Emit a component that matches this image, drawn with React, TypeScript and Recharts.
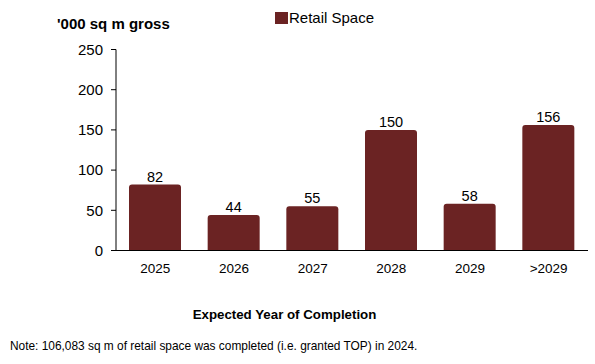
import React from "react";
import { BarChart, Bar, XAxis, YAxis, LabelList } from "recharts";

// Expected completion years and the retail floor space ('000 sq m gross) due in each
const years = ["2025", "2026", "2027", "2028", "2029", ">2029"];
const retailSpace = [82, 44, 55, 150, 58, 156];
const yTicks = [0, 50, 100, 150, 200, 250];
const seriesName = "Retail Space";

const data = years.map((year, i) => ({ year, retail: retailSpace[i] }));

const FONT = "'Liberation Sans', Arial, sans-serif";
const BAR_COLOR = "#6B2323";
const W = 595;
const H = 364;

const LegendBox = () => (
  <div
    style={{
      position: "absolute",
      left: 275,
      top: 10,
      display: "flex",
      alignItems: "center",
      fontFamily: FONT,
      fontSize: 15,
      color: "#000",
      lineHeight: "16px",
    }}
  >
    <span
      style={{
        display: "inline-block",
        width: 13,
        height: 12,
        background: BAR_COLOR,
        marginRight: 1,
      }}
    />
    <span>{seriesName}</span>
  </div>
);

export default function App() {
  return (
    <div style={{ position: "absolute", left: 0, top: 0, width: W, height: H, background: "#fff" }}>
      <BarChart
        width={W}
        height={H}
        data={data}
        margin={{ top: 49.5, right: 7, bottom: 83.5, left: 76 }}
      >
        <YAxis
          width={40}
          domain={[0, 250]}
          ticks={yTicks}
          interval={0}
          axisLine={{ stroke: "#000", strokeWidth: 1 }}
          tickLine={{ stroke: "#000", strokeWidth: 1 }}
          tickSize={5}
          tickMargin={8}
          tick={{ fill: "#000", fontSize: 15, fontFamily: FONT }}
        />
        <XAxis
          dataKey="year"
          height={30}
          axisLine={{ stroke: "#000", strokeWidth: 1 }}
          tickLine={false}
          tickSize={6}
          tickMargin={7}
          tick={{ fill: "#000", fontSize: 13.5, fontFamily: FONT }}
        />
        <Bar
          dataKey="retail"
          name={seriesName}
          fill={BAR_COLOR}
          barSize={52}
          radius={[3, 3, 0, 0]}
          isAnimationActive={false}
        >
          <LabelList
            dataKey="retail"
            position="top"
            offset={3}
            style={{ fill: "#000", fontSize: 14.5, fontFamily: FONT }}
          />
        </Bar>
      </BarChart>
      <LegendBox />
      <svg
        width={W}
        height={H}
        style={{ position: "absolute", left: 0, top: 0, pointerEvents: "none" }}
      >
        <text x={57} y={29} fontFamily={FONT} fontSize={15} fontWeight="bold" fill="#000">
          '000 sq m gross
        </text>
        <text
          x={284.5}
          y={319}
          textAnchor="middle"
          fontFamily={FONT}
          fontSize={13.3}
          fontWeight="bold"
          fill="#000"
        >
          Expected Year of Completion
        </text>
        <text x={10} y={350} fontFamily={FONT} fontSize={11.9} fill="#000">
          Note: 106,083 sq m of retail space was completed (i.e. granted TOP) in 2024.
        </text>
      </svg>
    </div>
  );
}
